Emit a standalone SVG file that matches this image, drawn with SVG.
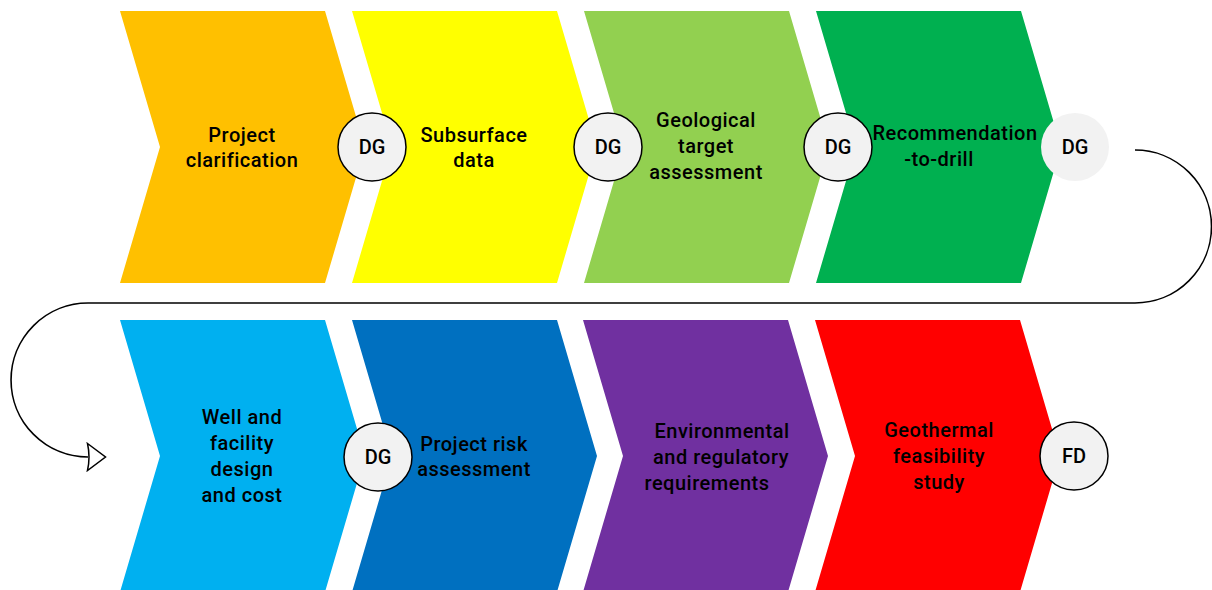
<svg xmlns="http://www.w3.org/2000/svg" width="1212" height="590" viewBox="0 0 1212 590">
  <style>
    .lbl { font-family: Roboto, "Liberation Sans", sans-serif; font-weight: 500; font-size: 20px; letter-spacing: 0.5px; fill: #000; text-anchor: middle; }
    .gate { fill: #f2f2f2; stroke: #000; stroke-width: 1.5; }
    .gate-open { fill: #f2f2f2; stroke: none; }
    .gate-txt { font-family: Roboto, "Liberation Sans", sans-serif; font-weight: 500; font-size: 20px; fill: #000; text-anchor: middle; }
    .flow { fill: none; stroke: #000; stroke-width: 1.6; }
  </style>
  <defs>
    <!-- chevron: 205 wide at top/bottom edge, 40 deep notch and tip, 272 tall -->
    <path id="chev" d="M0,0 L205,0 L245,136 L205,272 L0,272 L40,136 Z"/>
    <marker id="openArrow" viewBox="0 0 22 30" refX="2" refY="15" markerWidth="22" markerHeight="30" markerUnits="userSpaceOnUse" orient="auto">
      <path d="M1.5,1.5 L19.5,15 L1.5,28.5 Q4.5,15 1.5,1.5 Z" fill="#fff" stroke="#000" stroke-width="1.5" stroke-linejoin="miter"/>
    </marker>
  </defs>

  <rect width="1212" height="590" fill="#fff"/>

  <!-- top row -->
  <g id="project-clarification">
    <use href="#chev" x="120" y="11" fill="#FFC000"/>
    <text class="lbl" x="242" y="142">Project</text>
    <text class="lbl" x="242" y="167">clarification</text>
  </g>
  <g id="subsurface-data">
    <use href="#chev" x="352" y="11" fill="#FFFF00"/>
    <text class="lbl" x="474" y="142">Subsurface</text>
    <text class="lbl" x="474" y="167">data</text>
  </g>
  <g id="geological-target-assessment">
    <use href="#chev" x="584" y="11" fill="#92D050"/>
    <text class="lbl" x="706" y="127">Geological</text>
    <text class="lbl" x="706" y="153">target</text>
    <text class="lbl" x="706" y="179">assessment</text>
  </g>
  <g id="recommendation-to-drill">
    <use href="#chev" x="816" y="11" fill="#00B050"/>
    <text class="lbl" x="955" y="140">Recommendation</text>
    <text class="lbl" x="939" y="166">-to-drill</text>
  </g>

  <!-- bottom row -->
  <g id="well-facility-design">
    <use href="#chev" x="120" y="320" fill="#00B0F0"/>
    <text class="lbl" x="242" y="424">Well and</text>
    <text class="lbl" x="242" y="450">facility</text>
    <text class="lbl" x="242" y="476">design</text>
    <text class="lbl" x="242" y="502">and cost</text>
  </g>
  <g id="project-risk-assessment">
    <use href="#chev" x="352" y="320" fill="#0070C0"/>
    <text class="lbl" x="474" y="451">Project risk</text>
    <text class="lbl" x="474" y="476">assessment</text>
  </g>
  <g id="environmental-regulatory">
    <use href="#chev" x="583" y="320" fill="#7030A0"/>
    <text class="lbl" x="722" y="438">Environmental</text>
    <text class="lbl" x="721" y="464">and regulatory</text>
    <text class="lbl" x="707" y="490">requirements</text>
  </g>
  <g id="geothermal-feasibility-study">
    <use href="#chev" x="815" y="320" fill="#FF0000"/>
    <text class="lbl" x="939" y="437">Geothermal</text>
    <text class="lbl" x="939" y="463">feasibility</text>
    <text class="lbl" x="939" y="489">study</text>
  </g>

  <!-- decision gates -->
  <g id="gate-1">
    <circle class="gate" cx="372" cy="147" r="34"/>
    <text class="gate-txt" x="372" y="154">DG</text>
  </g>
  <g id="gate-2">
    <circle class="gate" cx="608" cy="147" r="34"/>
    <text class="gate-txt" x="608" y="154">DG</text>
  </g>
  <g id="gate-3">
    <circle class="gate" cx="838" cy="147" r="34"/>
    <text class="gate-txt" x="838" y="154">DG</text>
  </g>
  <g id="gate-4">
    <circle class="gate-open" cx="1075" cy="147" r="34"/>
    <text class="gate-txt" x="1075" y="154">DG</text>
  </g>
  <g id="gate-5">
    <circle class="gate" cx="378" cy="457" r="34"/>
    <text class="gate-txt" x="378" y="464">DG</text>
  </g>
  <g id="final-decision">
    <circle class="gate" cx="1074" cy="456" r="34"/>
    <text class="gate-txt" x="1074" y="463">FD</text>
  </g>

  <!-- row-to-row return connector -->
  <g id="connectors">
    <path class="flow" d="M1135,150 A76.5,76.5 0 0 1 1135,303 L88,303 A77,77 0 0 0 88,457" marker-end="url(#openArrow)"/>
  </g>
</svg>
